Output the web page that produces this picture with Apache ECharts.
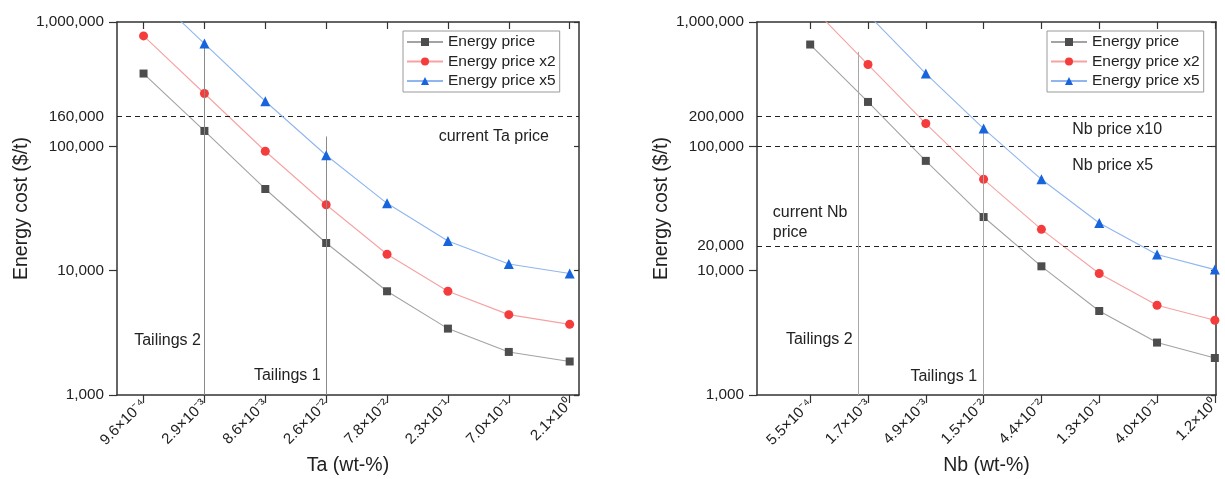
<!DOCTYPE html>
<html><head><meta charset="utf-8">
<script src="https://cdn.jsdelivr.net/npm/echarts@6/dist/echarts.min.js"></script>
<style>html,body{margin:0;padding:0;background:#fff}#c{width:1225px;height:479px}</style>
</head><body><div id="c"></div>
<script>
// ---------- data ----------
const taTickLabels = ['9.6×10⁻⁴','2.9×10⁻³','8.6×10⁻³','2.6×10⁻²','7.8×10⁻²','2.3×10⁻¹','7.0×10⁻¹','2.1×10⁰'];
const nbTickLabels = ['5.5×10⁻⁴','1.7×10⁻³','4.9×10⁻³','1.5×10⁻²','4.4×10⁻²','1.3×10⁻¹','4.0×10⁻¹','1.2×10⁰'];
const seriesNames = ['Energy price','Energy price x2','Energy price x5'];

const taEnergy   = [385000, 133000, 45400, 16700, 6830, 3420, 2220, 1860];
const taEnergyX2 = [773000, 266000, 91300, 33900, 13550, 6830, 4430, 3700];
const taEnergyX5 = [1950000, 670000, 230500, 84800, 34800, 17300, 11300, 9480];

const nbEnergy   = [659000, 227500, 76400, 27000, 10840, 4740, 2640, 1985];
const nbEnergyX2 = [1360000, 455000, 152500, 54300, 21500, 9480, 5270, 3990];
const nbEnergyX5 = [3440000, 1150000, 385000, 139000, 54300, 24200, 13480, 10200];

// dashed price levels (as drawn) and their labels
const taPriceLevels = [174000];
const taPriceLabels = ['160,000'];
const nbPriceLevels = [174000, 100000, 15800];
const nbPriceLabels = ['200,000', '', '20,000'];

// ---------- styling ----------
const FONT = '"Liberation Sans", Arial, sans-serif';
const TXT = '#222';
const AX = '#333';
const markerColors = ['#4d4d4d', '#f43c3c', '#1764dc'];
const lineColors   = ['#a3a3a3', '#f6a2a2', '#8fb6ef'];
const symbols      = ['rect', 'circle', 'triangle'];
const symbolSizes  = [8, 9, 10];

const grids = [
  {left: 117, top: 22, width: 462, height: 373, outerBoundsMode: 'none', containLabel: false},
  {left: 757, top: 22, width: 459, height: 373, outerBoundsMode: 'none', containLabel: false}
];
const xRanges = [[-0.436, 7.153], [-0.92, 7.02]];
const tickIdx = taTickLabels.map((_, i) => i);

function xAxesFor(g, labels, name) {
  const common = {
    type: 'value', gridIndex: g, min: xRanges[g][0], max: xRanges[g][1],
    splitLine: {show: false},
    axisLine: {show: true, onZero: false, lineStyle: {color: AX, width: 1.5}},
  };
  return [
    Object.assign({}, common, {
      position: 'bottom',
      axisTick: {show: true, inside: false, length: 8, customValues: tickIdx, lineStyle: {color: AX, width: 1.2}},
      axisLabel: {show: true, customValues: tickIdx, rotate: 45, margin: 7,
        formatter: v => labels[Math.round(v)], fontSize: 15, color: TXT, fontFamily: FONT},
      name: name, nameLocation: 'middle', nameGap: 61,
      nameTextStyle: {fontSize: 19.5, color: TXT, fontFamily: FONT}
    }),
    Object.assign({}, common, {
      position: 'top',
      axisTick: {show: true, inside: true, length: 7, customValues: tickIdx, lineStyle: {color: AX, width: 1.2}},
      axisLabel: {show: false}
    })
  ];
}
function yAxesFor(g) {
  const common = {
    type: 'log', logBase: 10, min: 1000, max: 1000000, gridIndex: g,
    splitLine: {show: false}, minorTick: {show: false},
    axisLine: {show: true, onZero: false, lineStyle: {color: AX, width: 1.5}}
  };
  return [
    Object.assign({}, common, {
      position: 'left',
      axisTick: {show: true, inside: false, length: 8, lineStyle: {color: AX, width: 1.2}},
      axisLabel: {show: true, margin: 13, fontSize: 15.3, color: TXT, fontFamily: FONT,
        formatter: v => Math.round(v).toLocaleString('en-US')},
      name: 'Energy cost ($/t)', nameLocation: 'middle', nameGap: 84, nameRotate: 90,
      nameTextStyle: {fontSize: 19.5, color: TXT, fontFamily: FONT}
    }),
    Object.assign({}, common, {
      position: 'right',
      axisTick: {show: true, inside: true, length: 5, lineStyle: {color: AX, width: 1.2}},
      axisLabel: {show: false}
    })
  ];
}

const textStyle = {fontSize: 16, color: TXT, fontFamily: FONT};
function hLine(level, label) {
  return {
    yAxis: level,
    lineStyle: {type: [5, 4], color: '#222', width: 1},
    label: label ? Object.assign({show: true, position: 'start', distance: 13, formatter: label}, textStyle, {fontSize: 15.3}) : {show: false}
  };
}
function vLine(x, yTop, color) {
  return [
    {coord: [x, yTop], lineStyle: {type: 'solid', color: color, width: 1}, label: {show: false}},
    {coord: [x, 1000]}
  ];
}
function note(x, y, text, pos, dist) {
  return {
    coord: [x, y], symbol: 'circle', symbolSize: 1, itemStyle: {color: 'rgba(0,0,0,0)'},
    label: Object.assign({show: true, position: pos, distance: dist, formatter: text, lineHeight: 19.6}, textStyle)
  };
}

function seriesFor(g, arrays, marks) {
  return arrays.map((vals, k) => {
    const s = {
      type: 'line', name: seriesNames[k],
      xAxisIndex: 2 * g, yAxisIndex: 2 * g,
      data: vals.map((v, i) => [i, v]),
      symbol: symbols[k], symbolSize: symbolSizes[k],
      itemStyle: {color: markerColors[k]},
      lineStyle: {color: lineColors[k], width: 1.1},
      clip: true, z: 3 + k
    };
    if (k === 0) {
      s.markLine = {silent: true, symbol: ['none', 'none'], animation: false, data: marks.lines};
      s.markPoint = {silent: true, animation: false, data: marks.notes};
    }
    return s;
  });
}

const taMarks = {
  lines: [
    ...taPriceLevels.map((lv, i) => hLine(lv, taPriceLabels[i])),
    vLine(1, 715000, '#8a8a8a'),
    vLine(3, 120000, '#8a8a8a')
  ],
  notes: [
    note(4.84, 120500, 'current Ta price', 'right', 0),
    note(1, 2750, 'Tailings 2', 'left', 3),
    note(3, 1440, 'Tailings 1', 'left', 5)
  ]
};
const nbMarks = {
  lines: [
    ...nbPriceLevels.map((lv, i) => hLine(lv, nbPriceLabels[i])),
    vLine(0.83, 576000, '#a8a8a8'),
    vLine(3, 140000, '#a8a8a8')
  ],
  notes: [
    note(4.525, 136500, 'Nb price x10', 'right', 0),
    note(4.525, 69500, 'Nb price x5', 'right', 0),
    note(-0.656, 24300, 'current Nb\nprice', 'right', 0),
    note(0.83, 2790, 'Tailings 2', 'left', 5),
    note(3, 1400, 'Tailings 1', 'left', 6)
  ]
};

function legendAt(left) {
  return {
    left: left, top: 31, orient: 'vertical', data: seriesNames,
    itemWidth: 36, itemHeight: 10, itemGap: 3.5, padding: [3, 4, 3, 3],
    borderColor: '#9a9a9a', borderWidth: 1, backgroundColor: '#fff',
    textStyle: {fontSize: 15.5, color: TXT, fontFamily: FONT, lineHeight: 16}
  };
}

const chart = echarts.init(document.getElementById('c'), null, {renderer: 'canvas'});
chart.setOption({
  animation: false,
  backgroundColor: '#fff',
  textStyle: {fontFamily: FONT},
  grid: grids,
  legend: [legendAt(403), legendAt(1047)],
  xAxis: [...xAxesFor(0, taTickLabels, 'Ta (wt-%)'), ...xAxesFor(1, nbTickLabels, 'Nb (wt-%)')],
  yAxis: [...yAxesFor(0), ...yAxesFor(1)],
  series: [
    ...seriesFor(0, [taEnergy, taEnergyX2, taEnergyX5], taMarks),
    ...seriesFor(1, [nbEnergy, nbEnergyX2, nbEnergyX5], nbMarks)
  ]
});
</script></body></html>
